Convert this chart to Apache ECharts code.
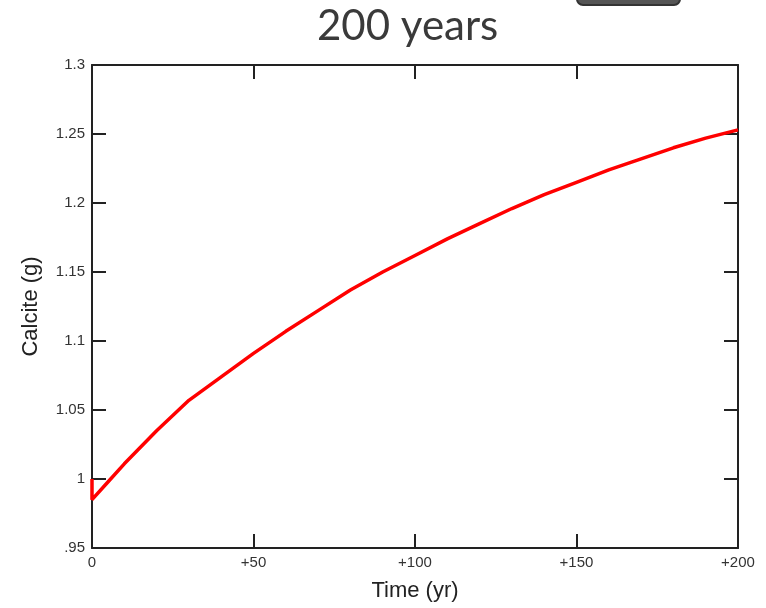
<!DOCTYPE html>
<html>
<head>
<meta charset="utf-8">
<script src="https://cdn.jsdelivr.net/npm/echarts@6/dist/echarts.min.js"></script>
<style>html,body{margin:0;padding:0;background:#fff}#c{width:766px;height:608px}</style>
</head>
<body>
<div id="c"></div>
<script>
const titleText = '200 years';
const xName = 'Time (yr)';
const yName = 'Calcite (g)';
const timeYr = [0, 0, 5, 10, 20, 25, 30, 40, 50, 60, 70, 80, 90, 100, 110, 120, 130, 140, 150, 160, 170, 180, 190, 200];
const calciteG = [1.0, 0.985, 0.998, 1.011, 1.035, 1.046, 1.057, 1.074, 1.091, 1.107, 1.122, 1.137, 1.150, 1.162, 1.174, 1.185, 1.196, 1.206, 1.215, 1.224, 1.232, 1.240, 1.247, 1.253];
const xTickLabels = {0: '0', 50: '+50', 100: '+100', 150: '+150', 200: '+200'};

const chart = echarts.init(document.getElementById('c'));
const lab = {fontFamily: 'Liberation Sans', fontSize: 15, color: '#333'};
const axisLine = {show: true, onZero: false, lineStyle: {color: '#222', width: 2}};
const tick = {show: true, inside: true, length: 14, lineStyle: {color: '#222', width: 2}};
chart.setOption({
  animation: false,
  title: {
    text: titleText, left: 312, top: 0,
    textStyle: {fontFamily: 'Lato', fontSize: 42, fontWeight: 'normal', color: '#3a3a3a'}
  },
  graphic: [{
    type: 'rect', shape: {x: 577, y: -20, width: 103, height: 25, r: 6},
    style: {fill: '#555', stroke: '#333', lineWidth: 2}
  }],
  grid: {left: 92, right: 28, top: 65, bottom: 60},
  xAxis: [{
    type: 'value', min: 0, max: 200, interval: 50, position: 'bottom',
    name: xName, nameLocation: 'middle', nameGap: 32,
    nameTextStyle: {fontFamily: 'Liberation Sans', fontSize: 22, color: '#222'},
    axisLine, axisTick: tick, splitLine: {show: false},
    axisLabel: Object.assign({margin: 7, formatter: v => xTickLabels[v] ?? String(v)}, lab)
  }, {
    type: 'value', min: 0, max: 200, interval: 50, position: 'top',
    axisLine, axisTick: tick, splitLine: {show: false}, axisLabel: {show: false}
  }],
  yAxis: [{
    type: 'value', min: 0.95, max: 1.3, interval: 0.05, position: 'left',
    name: yName, nameLocation: 'middle', nameGap: 50,
    nameTextStyle: {fontFamily: 'Liberation Sans', fontSize: 22, color: '#222'},
    axisLine, axisTick: tick, splitLine: {show: false},
    axisLabel: Object.assign({margin: 7, inside: false, formatter: v => {
      let s = String(+v.toFixed(2));
      if (s.startsWith('0.')) s = s.slice(1);
      return s;
    }}, lab)
  }, {
    type: 'value', min: 0.95, max: 1.3, interval: 0.05, position: 'right',
    axisLine, axisTick: tick, splitLine: {show: false}, axisLabel: {show: false}
  }],
  series: [{
    type: 'line', showSymbol: false, symbol: 'none',
    data: timeYr.map((t, i) => [t, calciteG[i]]),
    lineStyle: {color: '#ff0000', width: 3.5},
    z: 5
  }]
});
</script>
</body>
</html>
